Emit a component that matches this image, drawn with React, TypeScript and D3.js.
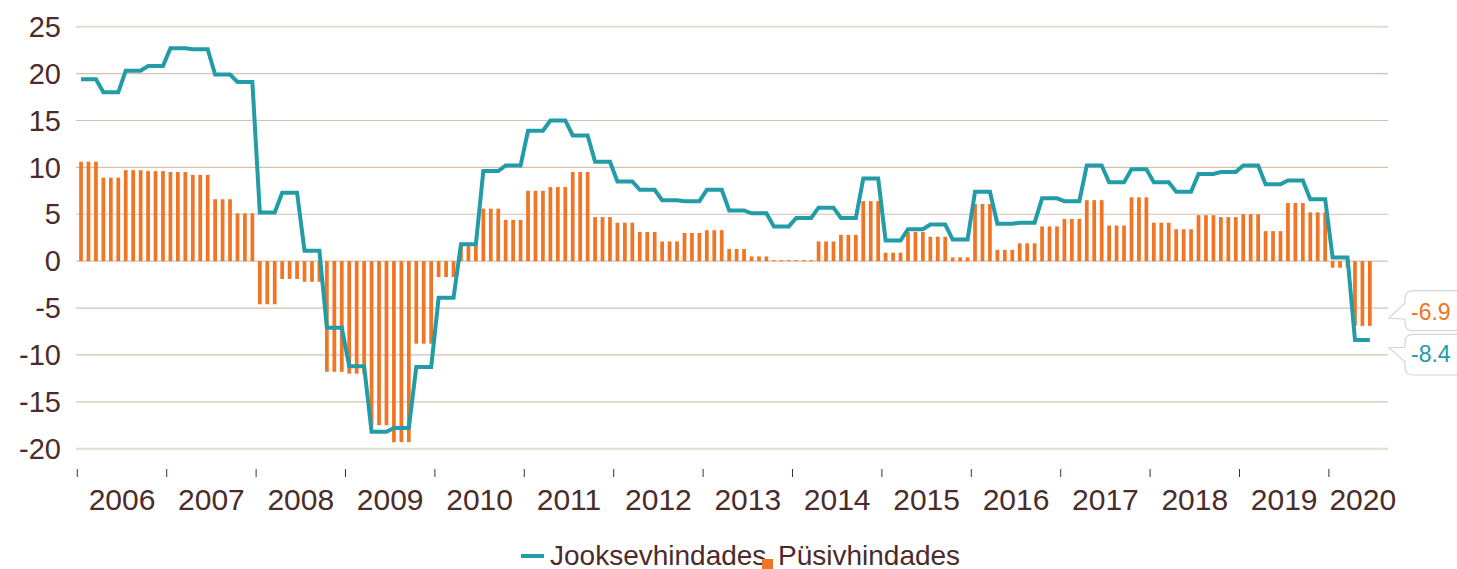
import React from "react";
import * as d3 from "d3";

const yearLabels = ["2006", "2007", "2008", "2009", "2010", "2011", "2012", "2013", "2014", "2015", "2016", "2017", "2018", "2019", "2020"];
const yTicks = [25, 20, 15, 10, 5, 0, -5, -10, -15, -20];
const seriesNames = ["Jooksevhindades", "Püsivhindades"];

// monthly values, Jan 2006 – Jun 2020
const jooksevhindades = [
  19.4, 19.4, 19.4, 18.0, 18.0, 18.0, 20.3, 20.3, 20.3, 20.8, 20.8, 20.8,
  22.7, 22.7, 22.7, 22.6, 22.6, 22.6, 19.9, 19.9, 19.9, 19.1, 19.1, 19.1,
  5.2, 5.2, 5.2, 7.3, 7.3, 7.3, 1.1, 1.1, 1.1, -7.1, -7.1, -7.1,
  -11.2, -11.2, -11.2, -18.2, -18.2, -18.2, -17.8, -17.8, -17.8, -11.3, -11.3, -11.3,
  -3.9, -3.9, -3.9, 1.8, 1.8, 1.8, 9.6, 9.6, 9.6, 10.2, 10.2, 10.2,
  13.9, 13.9, 13.9, 15.0, 15.0, 15.0, 13.4, 13.4, 13.4, 10.6, 10.6, 10.6,
  8.5, 8.5, 8.5, 7.6, 7.6, 7.6, 6.5, 6.5, 6.5, 6.4, 6.4, 6.4,
  7.6, 7.6, 7.6, 5.4, 5.4, 5.4, 5.1, 5.1, 5.1, 3.7, 3.7, 3.7,
  4.6, 4.6, 4.6, 5.7, 5.7, 5.7, 4.6, 4.6, 4.6, 8.8, 8.8, 8.8,
  2.2, 2.2, 2.2, 3.4, 3.4, 3.4, 3.9, 3.9, 3.9, 2.3, 2.3, 2.3,
  7.4, 7.4, 7.4, 4.0, 4.0, 4.0, 4.1, 4.1, 4.1, 6.7, 6.7, 6.7,
  6.4, 6.4, 6.4, 10.2, 10.2, 10.2, 8.4, 8.4, 8.4, 9.8, 9.8, 9.8,
  8.4, 8.4, 8.4, 7.4, 7.4, 7.4, 9.3, 9.3, 9.3, 9.5, 9.5, 9.5,
  10.2, 10.2, 10.2, 8.2, 8.2, 8.2, 8.6, 8.6, 8.6, 6.6, 6.6, 6.6,
  0.4, 0.4, 0.4, -8.4, -8.4, -8.4,
];

const pusivhindades = [
  10.6, 10.6, 10.6, 8.9, 8.9, 8.9, 9.7, 9.7, 9.7, 9.6, 9.6, 9.6,
  9.5, 9.5, 9.5, 9.2, 9.2, 9.2, 6.6, 6.6, 6.6, 5.1, 5.1, 5.1,
  -4.6, -4.6, -4.6, -1.9, -1.9, -1.9, -2.2, -2.2, -2.2, -11.8, -11.8, -11.8,
  -12.0, -12.0, -12.0, -17.5, -17.5, -17.5, -19.3, -19.3, -19.3, -8.8, -8.8, -8.8,
  -1.7, -1.7, -1.7, 1.6, 1.6, 1.6, 5.6, 5.6, 5.6, 4.4, 4.4, 4.4,
  7.5, 7.5, 7.5, 7.9, 7.9, 7.9, 9.5, 9.5, 9.5, 4.7, 4.7, 4.7,
  4.1, 4.1, 4.1, 3.1, 3.1, 3.1, 2.1, 2.1, 2.1, 3.0, 3.0, 3.0,
  3.3, 3.3, 3.3, 1.3, 1.3, 1.3, 0.5, 0.5, 0.5, 0.1, 0.1, 0.1,
  0.1, 0.1, 0.1, 2.1, 2.1, 2.1, 2.8, 2.8, 2.8, 6.4, 6.4, 6.4,
  0.9, 0.9, 0.9, 3.1, 3.1, 3.1, 2.6, 2.6, 2.6, 0.4, 0.4, 0.4,
  6.1, 6.1, 6.1, 1.2, 1.2, 1.2, 1.9, 1.9, 1.9, 3.7, 3.7, 3.7,
  4.5, 4.5, 4.5, 6.5, 6.5, 6.5, 3.8, 3.8, 3.8, 6.8, 6.8, 6.8,
  4.1, 4.1, 4.1, 3.4, 3.4, 3.4, 4.9, 4.9, 4.9, 4.7, 4.7, 4.7,
  5.0, 5.0, 5.0, 3.2, 3.2, 3.2, 6.2, 6.2, 6.2, 5.2, 5.2, 5.2,
  -0.7, -0.7, -0.7, -6.9, -6.9, -6.9,
];

const TEAL = "#229CA7";
const ORANGE = "#F07524";
const TEXT = "#4B2C2B";
const GRID = "#D6C1AF";
const GRID_EDGE = "#E8DBCF";
const FONT = "'Liberation Sans', Arial, Helvetica, sans-serif";

export default function App() {
  const W = 1457;
  const H = 569;
  const left = 77.3;
  const step = 7.45;
  const n = pusivhindades.length;
  const plotRight = 1388;

  const x = d3
    .scaleBand<number>()
    .domain(d3.range(n))
    .range([left, left + step * n])
    .paddingInner(0.5)
    .paddingOuter(0.25);
  const monthX = d3.scaleLinear().domain([0, n]).range([left, left + step * n]);
  const y = d3.scaleLinear().domain([-20, 25]).range([448.7, 26.7]);
  const bw = x.bandwidth();

  const line = d3
    .line<number>()
    .x((_, i) => (x(i) as number) + bw / 2)
    .y((d) => y(d));

  const lastP = pusivhindades[n - 1];
  const lastJ = jooksevhindades[n - 1];

  const bx = 1405;
  const tipX = 1389;
  const b1Top = 290.7, b1Bot = 330.7;
  const b2Top = 334.3, b2Bot = 375;
  const r = 8;
  const box1 = `M1475,${b1Top} H${bx + r} Q${bx},${b1Top} ${bx},${b1Top + r} V303 L${tipX},318.3 L${bx},319 V${b1Bot - r} Q${bx},${b1Bot} ${bx + r},${b1Bot} H1475`;
  const box2 = `M1475,${b2Top} H${bx + r} Q${bx},${b2Top} ${bx},${b2Top + r} V347.3 L${tipX},347.7 L${bx},361.7 V${b2Bot - r} Q${bx},${b2Bot} ${bx + r},${b2Bot} H1475`;

  return (
    <svg
      width={W}
      height={H}
      viewBox={`0 0 ${W} ${H}`}
      style={{ position: "absolute", left: 0, top: 0, background: "#fff", fontFamily: FONT }}
    >
      <defs>
        <clipPath id="legclip">
          <rect x={0} y={520} width={962} height={60} />
        </clipPath>
      </defs>
      {yTicks.map((t) => (
        <line
          key={t}
          x1={76}
          x2={plotRight}
          y1={y(t)}
          y2={y(t)}
          stroke={t === 25 || t === -20 ? GRID_EDGE : GRID}
          strokeWidth={t === 25 || t === -20 ? 2 : 1.2}
        />
      ))}
      {yTicks.map((t) => (
        <text key={"l" + t} x={61} y={y(t)} dy="0.35em" textAnchor="end" fontSize={29} fill={TEXT}>
          {t}
        </text>
      ))}
      {pusivhindades.map((v, i) => (
        <rect
          key={"b" + i}
          x={x(i)}
          width={bw}
          y={y(Math.max(0, v))}
          height={Math.abs(y(v) - y(0))}
          fill={ORANGE}
        />
      ))}
      <path d={line(jooksevhindades) || ""} fill="none" stroke={TEAL} strokeWidth={4} strokeLinejoin="miter" />
      {yearLabels.map((lab, k) => {
        const tx = monthX(k * 12);
        const isLast = k === yearLabels.length - 1;
        return (
          <g key={lab}>
            <line x1={tx} x2={tx} y1={469} y2={477} stroke={TEXT} strokeWidth={1} />
            <text
              x={isLast ? tx + 0.5 : monthX(k * 12 + 6)}
              y={510}
              textAnchor={isLast ? "start" : "middle"}
              fontSize={30}
              fill={TEXT}
            >
              {lab}
            </text>
          </g>
        );
      })}
      <path d={box1} fill="#fff" stroke="#D6D6D6" strokeWidth={1.2} />
      <path d={box2} fill="#fff" stroke="#D6D6D6" strokeWidth={1.2} />
      <text x={1411} y={320} fontSize={23} fill={ORANGE}>
        {lastP.toFixed(1)}
      </text>
      <text x={1411} y={361.7} fontSize={23} fill={TEAL}>
        {lastJ.toFixed(1)}
      </text>
      <g clipPath="url(#legclip)">
        <line x1={521} x2={544} y1={556} y2={556} stroke={TEAL} strokeWidth={4} />
        <text x={550} y={564.5} fontSize={28} fill={TEXT}>
          {seriesNames[0]}
        </text>
        <rect x={762} y={559} width={11} height={11} fill={ORANGE} />
        <text x={778} y={564.5} fontSize={28} fill={TEXT}>
          {seriesNames[1]}
        </text>
      </g>
    </svg>
  );
}
